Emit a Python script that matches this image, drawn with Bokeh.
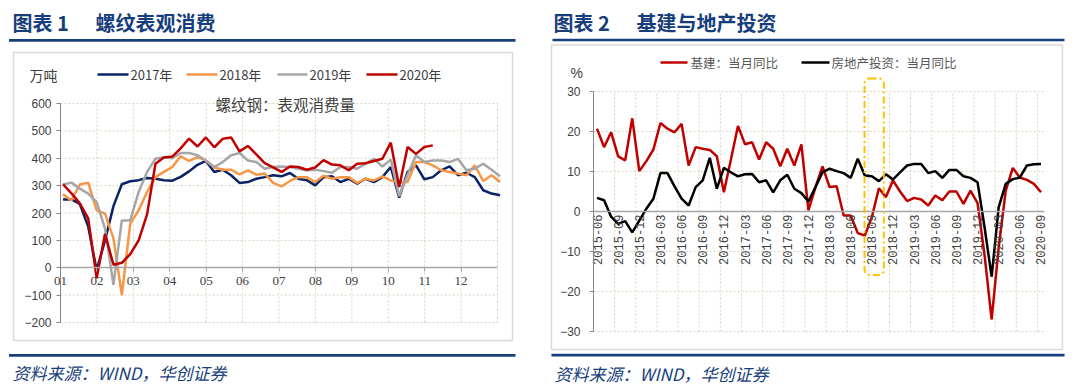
import math
import pandas as pd
from bokeh.plotting import figure
from bokeh.models import Range1d, FixedTicker, Label, BoxAnnotation
from bokeh.layouts import row
from bokeh.embed import file_html
from bokeh.resources import INLINE

# ---------------- data: chart 1 (weekly apparent consumption of rebar, 10k t)
month_labels = ["01", "02", "03", "04", "05", "06", "07", "08", "09", "10", "11", "12"]
series_names = ["2017年", "2018年", "2019年", "2020年"]
steel_2017 = [249, 250, 233, 150, -9, 100, 225, 305, 316, 320,
              328, 325, 320, 318, 332, 352, 376, 390, 350, 358,
              338, 310, 313, 325, 331, 338, 334, 346, 325, 320,
              301, 331, 334, 313, 325, 307, 325, 313, 331, 368,
              256, 350, 374, 323, 331, 356, 370, 338, 347, 331,
              283, 271, 265]
steel_2018 = [268, 246, 304, 311, 210, 198, 107, -100, 161, 210,
              277, 331, 350, 368, 407, 390, 404, 392, 366, 358,
              358, 341, 356, 340, 344, 310, 297, 317, 331, 331,
              313, 336, 325, 331, 331, 310, 325, 319, 334, 319,
              311, 313, 386, 386, 374, 356, 350, 344, 338, 374,
              317, 338, 313]
steel_2019 = [304, 311, 289, 271, 240, 143, -62, 173, 173, 277,
              350, 398, 404, 400, 419, 419, 411, 392, 368, 386,
              411, 419, 392, 386, 362, 368, 370, 368, 362, 356,
              358, 353, 347, 368, 368, 362, 380, 398, 370, 395,
              261, 340, 411, 386, 392, 392, 386, 398, 356, 362,
              380, 358, 334]
steel_2020 = [305, 272, 235, 180, -38, 124, 11, 18, 50, 100,
              195, 380, 403, 406, 436, 472, 443, 476, 440, 471,
              476, 425, 445, 414, 382, 367, 350, 370, 368, 358,
              366, 393, 377, 374, 356, 380, 382, 390, 398, 457,
              295, 441, 416, 441, 447]
steel_yticks = [-200, -100, 0, 100, 200, 300, 400, 500, 600]

# ---------------- data: chart 2 (monthly yoy, %)
months = pd.period_range("2015-06", "2020-09", freq="M").strftime("%Y-%m").tolist()
infra_yoy = [20.7, 16.1, 19.8, 13.8, 12.8, 23.3, 10.1, 12.6, 15.5, 22.1,
             20.7, 19.8, 21.9, 11.5, 16.1, 15.7, 15.4, 13.8, 4.8, 13.0,
             21.4, 16.8, 17.3, 13.0, 17.3, 15.7, 11.3, 15.7, 11.5, 16.8,
             0.3, 6.1, 11.3, 6.1, 6.3, -1.0, -1.0, -5.4, -6.0, -1.4,
             5.8, 3.6, 7.8, 5.0, 2.6, 3.4, 3.0, 1.5, 4.0, 2.8,
             5.0, 5.0, 1.9, 5.2, 2.1, -11.0, -27.0, -9.0, 5.2, 10.9,
             8.5, 7.9, 6.9, 4.8]
realestate_yoy = [3.4, 2.8, -1.3, -3.1, -2.4, -5.2, -2.3, 0.7, 3.2, 9.6,
                  9.6, 6.3, 3.2, 1.5, 6.1, 7.8, 13.4, 5.7, 10.9, 9.8,
                  8.8, 9.3, 9.4, 7.3, 7.8, 4.8, 7.8, 9.2, 5.7, 4.6,
                  2.5, 6.1, 9.8, 10.7, 10.1, 9.6, 8.4, 13.2, 9.0, 8.8,
                  7.6, 9.3, 8.0, 9.8, 11.5, 11.9, 11.9, 9.6, 10.1, 8.4,
                  10.4, 10.4, 8.8, 8.4, 7.3, -4.0, -16.3, 1.1, 6.9, 8.1,
                  8.5, 11.5, 11.8, 11.9]
legend2 = ["基建：当月同比", "房地产投资：当月同比"]
yoy_yticks = [-30, -20, -10, 0, 10, 20, 30]

NAVY = "#173e7c"
GRID = "#d8d4c0"
CJK = "Noto Sans CJK SC"
c2017, c2018, c2019, c2020 = "#0a2366", "#f79646", "#a6a6a6", "#c00000"
CW, CH = 538, 392   # each canvas


def make_fig(fx, fy, left_px):
    p = figure(frame_width=CW, frame_height=CH, min_border=0,
               x_range=Range1d(fx(left_px), fx(left_px + CW)),
               y_range=Range1d(fy(CH), fy(0)),
               output_backend="svg", toolbar_location=None)
    p.outline_line_color = None
    p.background_fill_color = "white"
    p.border_fill_color = "white"
    p.xgrid.visible = False
    p.ygrid.visible = False
    return p


def lbl(p, x, y, text, size, color, font, style="normal", align="left"):
    p.add_layout(Label(x=x, y=y, text=text, text_font=font, text_font_size=size,
                       text_color=color, text_font_style=style, text_align=align,
                       text_baseline="middle"))


def hbar(p, fx, fy, x0, x1, yc, th, color):
    p.add_layout(BoxAnnotation(left=fx(x0), right=fx(x1), top=fy(yc - th / 2), bottom=fy(yc + th / 2),
                               fill_color=color, fill_alpha=1, line_alpha=0))


def frame_box(p, fx, fy, x0, y0, x1, y1):
    p.add_layout(BoxAnnotation(left=fx(x0), right=fx(x1), top=fy(y0), bottom=fy(y1),
                               fill_alpha=0, line_color="#d9d9d9", line_alpha=1, line_width=1.5,
                               level="underlay"))


def style_axis(ax, font, size):
    ax.major_label_text_font = font
    ax.major_label_text_font_size = size
    ax.major_label_text_color = "#404040"
    ax.minor_tick_line_color = None
    ax.major_tick_in = 0


# ================= left figure =================
def X1(px):
    return (px - 60) * 12 / 437


def Y1(py):
    return 600 - (py - 103) * 800 / 219


p1 = make_fig(X1, Y1, 0)
frame_box(p1, X1, Y1, 13, 52, 512, 340)

# dotted grid
vt = list(range(1, 13))
p1.segment(x0=vt, y0=[-200] * len(vt), x1=vt, y1=[600] * len(vt),
           line_color=GRID, line_dash="2 2", line_width=1)
ht = [t for t in steel_yticks if t != 0]
p1.segment(x0=[0] * len(ht), y0=ht, x1=[12] * len(ht), y1=ht,
           line_color=GRID, line_dash="2 2", line_width=1)

xa = p1.xaxis[0]
xa.fixed_location = 0
xa.bounds = (0, 12)
xa.ticker = FixedTicker(ticks=list(range(12)))
xa.major_label_overrides = {i: month_labels[i] for i in range(12)}
style_axis(xa, "Liberation Serif", "13px")
xa.axis_line_color = "#a6a6a6"
xa.axis_line_width = 1.5
xa.major_tick_line_color = "#a6a6a6"
xa.major_tick_out = 4
xa.major_label_standoff = 5

ya = p1.yaxis[0]
ya.fixed_location = 0
ya.bounds = (-200, 600)
ya.ticker = FixedTicker(ticks=steel_yticks)
style_axis(ya, "Liberation Sans", "12px")
ya.axis_line_color = "#868686"
ya.major_tick_line_color = "#868686"
ya.major_tick_out = 4
ya.major_label_standoff = 5

for vals, col in ((steel_2017, c2017), (steel_2018, c2018), (steel_2019, c2019), (steel_2020, c2020)):
    xs = [(i + 0.3) * 12 / 52 for i in range(len(vals))]
    p1.line(xs, vals, line_color=col, line_width=2.5)

lbl(p1, X1(12), Y1(22), "图表 1", "20px", NAVY, CJK, "bold")
lbl(p1, X1(95), Y1(22), "螺纹表观消费", "20px", NAVY, CJK, "bold")
hbar(p1, X1, Y1, 8.5, 515, 39.8, 2.7, NAVY)
hbar(p1, X1, Y1, 8.5, 515, 354.8, 2.7, NAVY)
lbl(p1, X1(12), Y1(372), "资料来源：WIND，华创证券", "17px", NAVY, CJK, "italic")
lbl(p1, X1(29), Y1(74), "万吨", "14px", "#404040", CJK)
leg_pos = [(97, 128, 130), (186, 217, 219), (277, 307, 309), (366, 397, 399)]
for (a, b, t), name, col in zip(leg_pos, series_names, (c2017, c2018, c2019, c2020)):
    hbar(p1, X1, Y1, a, b, 74, 2.5, col)
    lbl(p1, X1(t), Y1(74), name, "13px", "#404040", CJK)
lbl(p1, X1(215), Y1(103), "螺纹钢：表观消费量", "15.5px", "#404040", CJK)


# ================= right figure =================
def X2(px):
    return -0.5 + (px - 593) * 64 / 451


def Y2(py):
    return 30 - (py - 91) * 60 / 240


p2 = make_fig(X2, Y2, 538)
frame_box(p2, X2, Y2, 551, 44.5, 1062, 349)

vt2 = [2.5 + 3 * k for k in range(21)]
p2.segment(x0=vt2, y0=[-30] * len(vt2), x1=vt2, y1=[30] * len(vt2),
           line_color=GRID, line_dash="2 2", line_width=1)
ht2 = [t for t in yoy_yticks if t != 0]
p2.segment(x0=[-0.5] * len(ht2), y0=ht2, x1=[63.5] * len(ht2), y1=ht2,
           line_color=GRID, line_dash="2 2", line_width=1)

tick_idx = list(range(0, len(months), 3))
xb = p2.xaxis[0]
xb.fixed_location = 0
xb.bounds = (-0.5, 63.5)
xb.ticker = FixedTicker(ticks=tick_idx)
xb.major_label_overrides = {i: months[i] for i in tick_idx}
xb.major_label_orientation = math.pi / 2
style_axis(xb, "Liberation Mono", "12px")
xb.axis_line_color = "#a6a6a6"
xb.axis_line_width = 1.5
xb.major_tick_out = 0
xb.major_label_standoff = 3

yb = p2.yaxis[0]
yb.fixed_location = -0.5
yb.bounds = (-30, 30)
yb.ticker = FixedTicker(ticks=yoy_yticks)
style_axis(yb, "Liberation Sans", "12px")
yb.axis_line_color = "#868686"
yb.major_tick_line_color = "#868686"
yb.major_tick_out = 4
yb.major_label_standoff = 9

xm = list(range(len(months)))
p2.line(xm, infra_yoy, line_color="#c00000", line_width=2.5)
p2.line(xm, realestate_yoy, line_color="#000000", line_width=2.5)

p2.add_layout(BoxAnnotation(left=X2(864), right=X2(883.3), top=Y2(78), bottom=Y2(274.5),
                            fill_alpha=0, line_color="#ffc000", line_alpha=1, line_width=2,
                            line_dash="7 3 2 3", border_radius=5))

lbl(p2, X2(553), Y2(22), "图表 2", "20px", NAVY, CJK, "bold")
lbl(p2, X2(636), Y2(22), "基建与地产投资", "20px", NAVY, CJK, "bold")
hbar(p2, X2, Y2, 552, 1064, 39.5, 2.7, NAVY)
hbar(p2, X2, Y2, 551, 1064, 354.7, 2.7, NAVY)
lbl(p2, X2(554), Y2(373), "资料来源：WIND，华创证券", "17px", NAVY, CJK, "italic")
lbl(p2, X2(570), Y2(72), "%", "14px", "#404040", "Liberation Sans")
hbar(p2, X2, Y2, 660, 687, 62, 2.5, "#c00000")
lbl(p2, X2(690), Y2(62), legend2[0], "12.5px", "#595959", CJK)
hbar(p2, X2, Y2, 801, 829, 62, 2.5, "#000000")
lbl(p2, X2(831), Y2(62), legend2[1], "12.5px", "#595959", CJK)

layout = row(p1, p2, spacing=0)
open("out.html", "w").write(file_html(layout, INLINE))
